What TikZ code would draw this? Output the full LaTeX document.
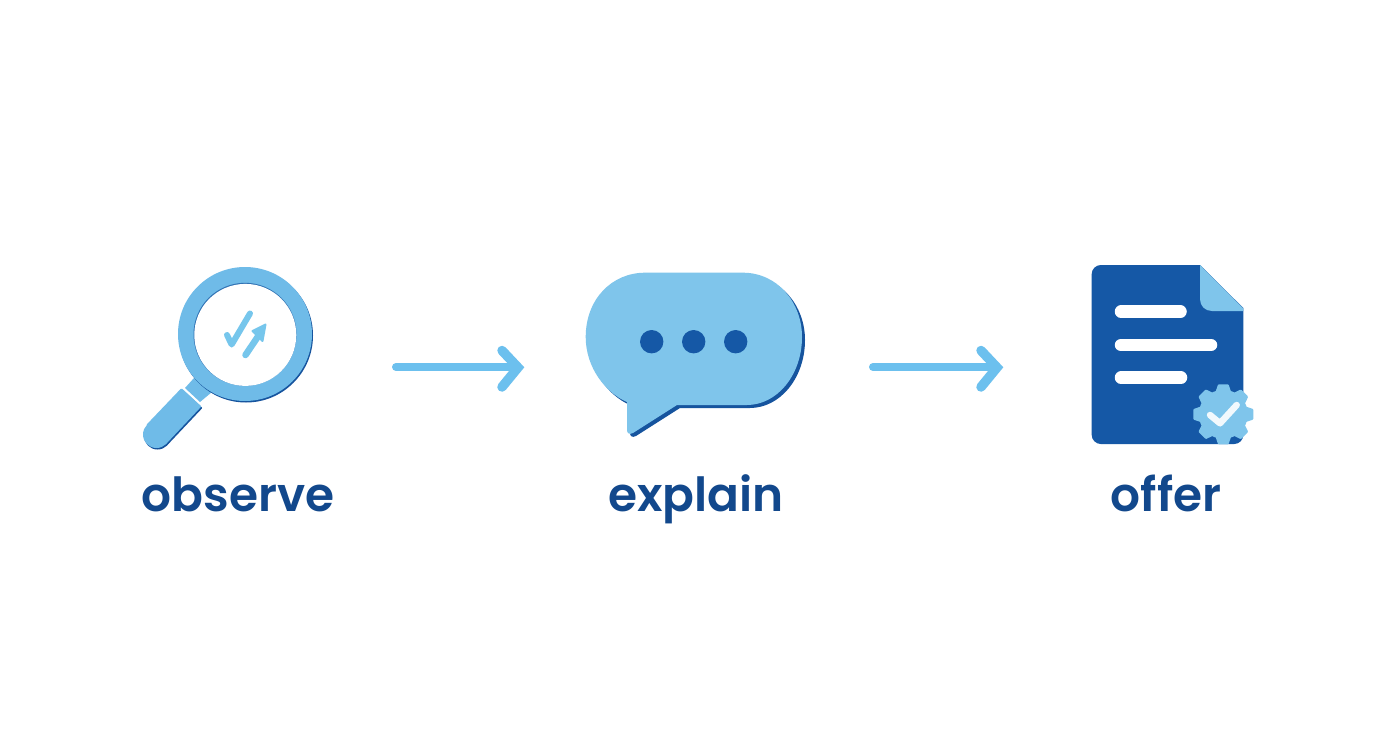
\documentclass[tikz,border=0pt]{standalone}
\usepackage{fontspec}
\setmainfont{Poppins}[UprightFont=* SemiBold,BoldFont=* SemiBold]
\definecolor{ringblue}{HTML}{6FBBE8}
\definecolor{bubbleblue}{HTML}{7FC5EB}
\definecolor{arrowblue}{HTML}{6CC0EE}
\definecolor{markblue}{HTML}{76C6EC}
\definecolor{deepblue}{HTML}{1558A6}
\definecolor{edgeblue}{HTML}{16549E}
\definecolor{textblue}{HTML}{12488C}
\tikzset{
  x=1pt,y=-1pt,
  label text/.style={font=\fontsize{47}{50}\selectfont,text=textblue,anchor=base,inner sep=0pt},
  flow line/.style={draw=arrowblue,line width=8pt,line cap=round},
  flow head/.style={draw=arrowblue,line width=9.5pt,line cap=round,line join=miter},
  doc line/.style={draw=white,line width=12.5pt,line cap=round},
  mini mark/.style={draw=markblue,line width=#1,line cap=round,line join=round},
}
\begin{document}
\begin{tikzpicture}
\useasboundingbox (0,0) rectangle (1392,752);
\fill[white] (0,0) rectangle (1392,752);

% magnifier
\fill[ringblue] (194,378) -- (212,392) -- (200,402) -- (185,388) -- cycle;
\fill[edgeblue] (246,335.5) circle[radius=67];
\fill[ringblue] (245,334) circle[radius=67];
\fill[edgeblue!70!ringblue] (245,334.3) circle[radius=51.5];
\fill[white] (245.3,334.9) circle[radius=51];
\fill[edgeblue] (157.5,436) circle[radius=13.5];
\filldraw[edgeblue,line width=2pt,line join=round] (182.5,391) -- (201,408) -- (167,444) -- (148,426) -- cycle;
\fill[ringblue] (156.5,434.5) circle[radius=13.5];
\filldraw[fill=ringblue,draw=ringblue,line width=2pt,line join=round] (181.5,389.5) -- (200,406.5) -- (166,442.6) -- (147.6,425) -- cycle;
\draw[mini mark=6pt] (227,335) -- (231.7,344.5) -- (250,313.5);
\draw[mini mark=6.5pt] (245.5,355) -- (259,335);
\filldraw[fill=markblue,draw=markblue,line width=2pt,line join=round] (265.5,324.5) -- (252.5,331) -- (262.5,341) -- cycle;

% speech bubble
\fill[edgeblue] (648,275.7) -- (746,275.7) .. controls (780,275.7) and (805,305) .. (805,340) .. controls (805,378) and (780,408) .. (750,408) -- (680,408) -- (636,436) .. controls (632,438) and (630,436) .. (630,433) -- (630,405) .. controls (609,396) and (588.7,371) .. (588.7,340) .. controls (588.7,302) and (615,275.7) .. (648,275.7) -- cycle;
\fill[bubbleblue] (645,272.7) -- (743,272.7) .. controls (777,272.7) and (802,302) .. (802,337) .. controls (802,375) and (777,405) .. (747,405) -- (677,405) -- (633,433) .. controls (629,435) and (627,433) .. (627,430) -- (627,402) .. controls (606,393) and (585.7,368) .. (585.7,337) .. controls (585.7,299) and (612,272.7) .. (645,272.7) -- cycle;
\foreach \dotx in {651.7,693.7,735.7}
  \fill[deepblue] (\dotx,341.7) circle[radius=11.7];

% document
\fill[deepblue] (1100.7,265) -- (1200,265) -- (1243.3,308) -- (1243.3,435) .. controls (1243.3,440) and (1239,444) .. (1234.3,444) -- (1100.7,444) .. controls (1096,444) and (1091.7,440) .. (1091.7,435) -- (1091.7,274) .. controls (1091.7,269) and (1096,265) .. (1100.7,265) -- cycle;
\fill[bubbleblue] (1200,265) -- (1243.3,308.5) -- (1243.3,311) -- (1212,311) .. controls (1205,311) and (1200,306) .. (1200,299) -- cycle;
\draw[doc line] (1121,311.7) -- (1180.5,311.7);
\draw[doc line] (1121,345) -- (1211,345);
\draw[doc line] (1121,377.7) -- (1181,377.7);
% gear
\fill[bubbleblue] (1223.3,414.3) circle[radius=24.5];
\foreach \toothangle in {0,45,...,315}
  \filldraw[fill=bubbleblue,draw=bubbleblue,line width=2.5pt,line join=round,rotate around={\toothangle:(1223.3,414.3)}] (1219,385.5) -- (1227.6,385.5) -- (1230.5,394) -- (1216.1,394) -- cycle;
\draw[draw=white!90!bubbleblue,line width=6.5pt,line cap=round,line join=round] (1210,415) -- (1220,423.3) -- (1236.7,405);

% connectors
\coordinate (firststart) at (396,367);
\coordinate (firstend) at (517,367);
\coordinate (secondstart) at (873,367);
\coordinate (secondend) at (995,367);
\coordinate (firsttop) at (502,350.5);
\coordinate (firsttip) at (518,367.5);
\coordinate (firstbot) at (502,387);
\coordinate (secondtop) at (981,350.5);
\coordinate (secondtip) at (997,367.5);
\coordinate (secondbot) at (981,387);
\draw[flow line] (firststart) -- (firstend);
\draw[flow head] (firsttop) -- (firsttip) -- (firstbot);
\draw[flow line] (secondstart) -- (secondend);
\draw[flow head] (secondtop) -- (secondtip) -- (secondbot);

% labels
\node[label text] (observe) at (238,511) {observe};
\node[label text] (explain) at (696,511) {explain};
\node[label text] (offer) at (1166,511) {offer};
\end{tikzpicture}
\end{document}
